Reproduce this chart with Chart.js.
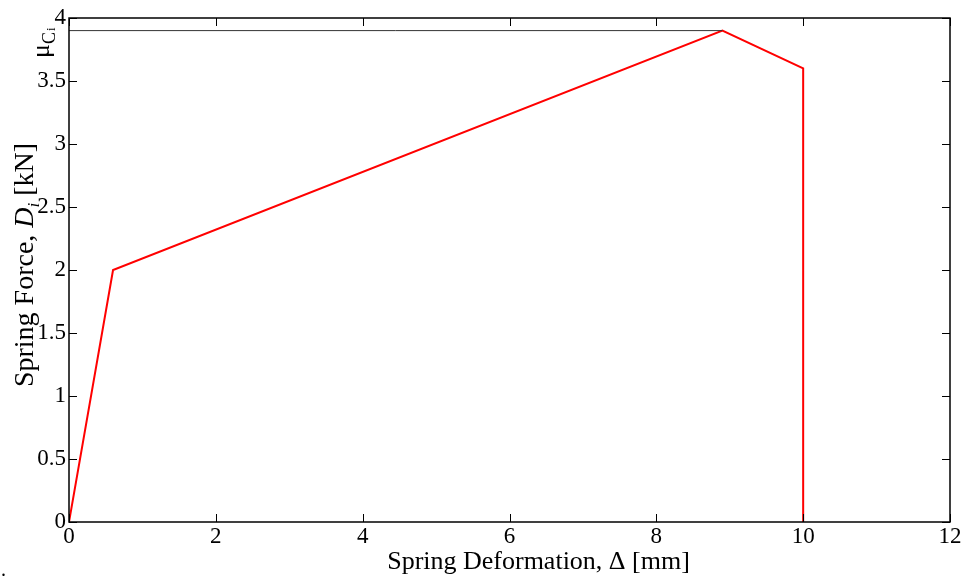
<!DOCTYPE html>
<html>
<head>
<meta charset="utf-8">
<script src="https://cdn.jsdelivr.net/npm/chart.js@4/dist/chart.umd.min.js"></script>
<style>
  html, body { margin: 0; padding: 0; background: #fff; }
  #wrap { width: 969px; height: 580px; position: relative; }
</style>
</head>
<body>
<div id="wrap"><canvas id="c" width="969" height="580"></canvas></div>
<script>
// spring law
const deformation = [0, 0.6, 8.9, 10, 10];
const force = [0, 2.0, 3.9, 3.6, 0];
// friction cap line mu_Ci
const capX = [0, 8.9];
const capY = [3.9, 3.9];
const xTicks = [0, 2, 4, 6, 8, 10, 12];
const yTicks = [0, 0.5, 1, 1.5, 2, 2.5, 3, 3.5, 4];

const SERIF = "'Liberation Serif', 'Times New Roman', serif";

// draw a run of differently styled text pieces from (x, 0)
function drawRuns(ctx, parts, x) {
    parts.forEach(p => {
        ctx.font = p.f;
        ctx.fillText(p.t, x, p.dy);
        x += ctx.measureText(p.t).width + (p.gap || 0);
    });
}
function runsWidth(ctx, parts) {
    let w = 0;
    parts.forEach(p => { ctx.font = p.f; w += ctx.measureText(p.t).width + (p.gap || 0); });
    return w;
}

// ─── box, inner ticks, axis titles ─────────────────────────
const framePlugin = {
    id: "frame",
    afterDraw(chart) {
        const { ctx, chartArea: a, scales } = chart;
        const tl = 8;
        ctx.save();
        ctx.strokeStyle = "#000";
        ctx.lineWidth = 1;
        ctx.beginPath();
        xTicks.forEach(v => {
            const px = Math.round(scales.x.getPixelForValue(v)) + 0.5;
            ctx.moveTo(px, a.bottom); ctx.lineTo(px, a.bottom - tl);
            ctx.moveTo(px, a.top); ctx.lineTo(px, a.top + tl);
        });
        yTicks.forEach(v => {
            const py = Math.round(scales.y.getPixelForValue(v)) + 0.5;
            ctx.moveTo(a.left, py); ctx.lineTo(a.left + tl, py);
            ctx.moveTo(a.right, py); ctx.lineTo(a.right - tl, py);
        });
        ctx.stroke();
        ctx.lineWidth = 1.5;
        ctx.strokeRect(a.left, a.top, a.right - a.left, a.bottom - a.top);
        ctx.restore();

        // x axis title
        ctx.save();
        ctx.fillStyle = "#000";
        ctx.font = "26px " + SERIF;
        ctx.textAlign = "center";
        ctx.fillText("Spring Deformation, \u0394 [mm]", (a.left + a.right) / 2 + 29, 569);
        ctx.restore();

        // y axis title with italic D_i
        ctx.save();
        ctx.fillStyle = "#000";
        ctx.translate(33, 265);
        ctx.rotate(-Math.PI / 2);
        const yParts = [
            { t: "Spring Force, ", f: "28px " + SERIF, dy: 0 },
            { t: "D", f: "italic 28px " + SERIF, dy: 0 },
            { t: "i", f: "italic 17px " + SERIF, dy: 6 },
            { t: " [kN]", f: "28px " + SERIF, dy: 0 },
        ];
        drawRuns(ctx, yParts, -runsWidth(ctx, yParts) / 2);
        ctx.restore();

        // mu_Ci label beside the cap line
        ctx.save();
        ctx.fillStyle = "#000";
        ctx.translate(49, 58);
        ctx.rotate(-Math.PI / 2);
        drawRuns(ctx, [
            { t: "\u03bc", f: "26px " + SERIF, dy: 0 },
            { t: "C", f: "18px " + SERIF, dy: 6, gap: 1 },
            { t: "i", f: "13px " + SERIF, dy: 6 },
        ], 0);
        ctx.restore();

        // stray caption dot
        ctx.save();
        ctx.fillStyle = "#000";
        ctx.font = "20px " + SERIF;
        ctx.fillText(".", 1, 576);
        ctx.restore();
    },
};

new Chart(document.getElementById("c"), {
    type: "scatter",
    data: {
        datasets: [
            {
                data: capX.map((x, i) => ({ x, y: capY[i] })),
                showLine: true,
                borderColor: "#333",
                borderWidth: 1,
                pointRadius: 0,
            },
            {
                data: deformation.map((x, i) => ({ x, y: force[i] })),
                showLine: true,
                borderColor: "#ff0000",
                borderWidth: 2,
                pointRadius: 0,
            },
        ],
    },
    options: {
        responsive: false,
        animation: false,
        layout: { padding: { top: 18, right: 19, left: 0, bottom: 0 } },
        plugins: { legend: { display: false }, tooltip: { enabled: false } },
        scales: {
            x: {
                type: "linear",
                min: 0, max: 12,
                afterFit: s => { s.height = 58; },
                afterBuildTicks: s => { s.ticks = xTicks.map(v => ({ value: v })); },
                grid: { display: false, drawTicks: false },
                border: { display: false },
                ticks: {
                    color: "#000", font: { family: SERIF, size: 23 }, padding: 1, maxRotation: 0,
                    callback: v => String(v),
                },
            },
            y: {
                type: "linear",
                min: 0, max: 4,
                afterFit: s => { s.width = 69; },
                afterBuildTicks: s => { s.ticks = yTicks.map(v => ({ value: v })); },
                grid: { display: false, drawTicks: false },
                border: { display: false },
                ticks: {
                    color: "#000", font: { family: SERIF, size: 23 }, padding: 3,
                    callback: v => String(v),
                },
            },
        },
    },
    plugins: [framePlugin],
});
</script>
</body>
</html>
